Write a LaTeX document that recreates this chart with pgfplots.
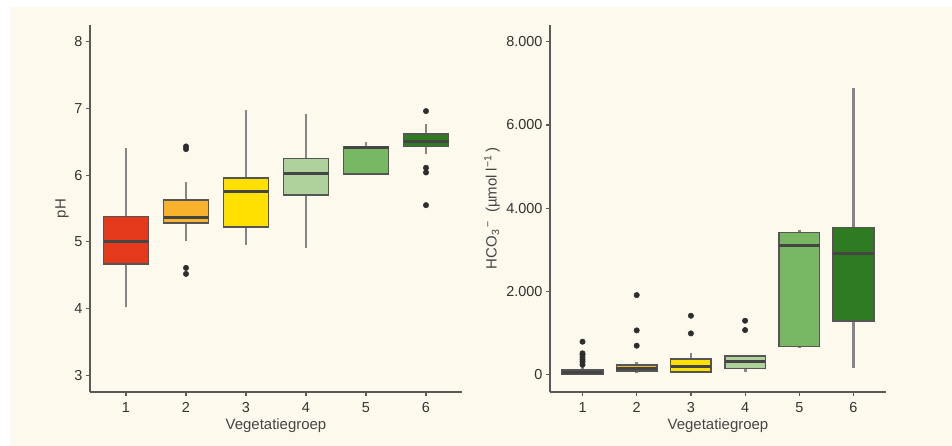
\documentclass[border=0pt]{standalone}
\usepackage{fontspec}
\setmainfont{Liberation Sans}
\usepackage{pgfplots}
\pgfplotsset{compat=1.18}
\usepgfplotslibrary{statistics}
\definecolor{bg}{HTML}{FDF9EC}
\definecolor{axcol}{HTML}{5A5A5A}
\definecolor{tkcol}{HTML}{333333}
\definecolor{lbcol}{HTML}{444444}
\definecolor{outl}{HTML}{555555}
\definecolor{medc}{HTML}{454545}
\definecolor{whc}{HTML}{858585}
\definecolor{dot}{HTML}{2E2E2E}
\definecolor{c1}{HTML}{E4391B}
\definecolor{c2}{HTML}{F8B22B}
\definecolor{c3}{HTML}{FFE000}
\definecolor{c4}{HTML}{AFD29C}
\definecolor{c5}{HTML}{78B862}
\definecolor{c6}{HTML}{2E7B22}
\pgfplotsset{
  vbox/.style={
    scale only axis, height=367bp,
    axis x line=bottom, axis y line=left,
    axis line style={-, draw=axcol, line width=1.8bp},
    tick align=outside, major tick length=4bp,
    tick style={draw=axcol, line width=1.2bp},
    xmin=0.4, xmax=6.6, xtick={1,2,3,4,5,6},
    xticklabels={1,2,3,4,5,6},
    ticklabel style={font=\fontsize{14.5}{16}\selectfont, text=tkcol},
    xticklabel style={yshift=-3bp},
    /pgf/number format/assume math mode=true,
    every axis x label/.style={at={(axis description cs:0.5,0)}, yshift=-34bp, anchor=center, font=\fontsize{15}{17}\selectfont, text=lbcol},
    boxplot/draw direction=y,
    boxplot/whisker extend=0,
    boxplot/box extend=0.75,
    boxplot/every box/.style={draw=outl, line width=1.6bp},
    boxplot/every whisker/.style={draw=whc, line width=2.8bp},
    boxplot/every median/.style={draw=medc, line width=3bp},
    xlabel={Vegetatiegroep},
  },
  bp/.style={mark=*, mark size=2.7bp, mark options={fill=dot, draw=dot, line width=0.5bp}, fill=#1, draw=outl, line width=1.6bp},
}
\begin{document}
\begin{tikzpicture}
\fill[white] (0,0) rectangle (952bp,446bp);
\fill[bg] (10bp,0) rectangle (952bp,439bp);
% ---------------- pH ----------------
\begin{axis}[vbox, at={(90bp,54bp)}, anchor=south west, width=372bp,
  ymin=2.75, ymax=8.25, ytick={3,4,5,6,7,8}, yticklabels={3,4,5,6,7,8},
  every axis y label/.style={at={(axis description cs:0,0.5)}, xshift=-28bp, rotate=90, anchor=center, font=\fontsize{15}{17}\selectfont, text=lbcol},
  ylabel={pH}]
\addplot[bp=c1, boxplot prepared={draw position=1, lower whisker=4.02, lower quartile=4.67, median=5.01, upper quartile=5.38, upper whisker=6.40}] coordinates {};
\addplot[bp=c2, boxplot prepared={draw position=2, lower whisker=5.01, lower quartile=5.28, median=5.37, upper quartile=5.63, upper whisker=5.89}] coordinates {(2,6.43) (2,6.39) (2,4.61) (2,4.52)};
\addplot[bp=c3, boxplot prepared={draw position=3, lower whisker=4.96, lower quartile=5.22, median=5.76, upper quartile=5.96, upper whisker=6.97}] coordinates {};
\addplot[bp=c4, boxplot prepared={draw position=4, lower whisker=4.91, lower quartile=5.70, median=6.02, upper quartile=6.25, upper whisker=6.91}] coordinates {};
\addplot[bp=c5, boxplot prepared={draw position=5, lower whisker=6.02, lower quartile=6.02, median=6.41, upper quartile=6.42, upper whisker=6.50}] coordinates {};
\addplot[bp=c6, boxplot prepared={draw position=6, lower whisker=6.31, lower quartile=6.43, median=6.50, upper quartile=6.62, upper whisker=6.76}] coordinates {(6,6.96) (6,6.11) (6,6.04) (6,5.55)};
\end{axis}
% ---------------- HCO3 (values in thousands of umol/l) ----------------
\begin{axis}[vbox, at={(550bp,54bp)}, anchor=south west, width=336bp,
  ymin=-0.416, ymax=8.4, ytick={0,2,4,6,8}, yticklabels={0,2.000,4.000,6.000,8.000},
  every axis y label/.style={at={(axis description cs:0,0.5)}, xshift=-58bp, rotate=90, anchor=center, font=\fontsize{15}{17}\selectfont, text=lbcol},
  ylabel={HCO\textsubscript{3}\textsuperscript{\,−}\ \ (µmol l\textsuperscript{−1}\,)}]
\addplot[bp=c1, boxplot prepared={draw position=1, lower whisker=0, lower quartile=0.016, median=0.050, upper quartile=0.110, upper whisker=0.200}] coordinates {(1,0.240) (1,0.312) (1,0.360) (1,0.416) (1,0.480) (1,0.512) (1,0.792)};
\addplot[bp=c2, boxplot prepared={draw position=2, lower whisker=0.040, lower quartile=0.090, median=0.160, upper quartile=0.230, upper whisker=0.300}] coordinates {(2,0.696) (2,1.064) (2,1.912)};
\addplot[bp=c3, boxplot prepared={draw position=3, lower whisker=0.030, lower quartile=0.070, median=0.190, upper quartile=0.370, upper whisker=0.510}] coordinates {(3,0.992) (3,1.416)};
\addplot[bp=c4, boxplot prepared={draw position=4, lower whisker=0.056, lower quartile=0.150, median=0.310, upper quartile=0.450, upper whisker=0.480}] coordinates {(4,1.072) (4,1.296)};
\addplot[bp=c5, boxplot prepared={draw position=5, lower whisker=0.640, lower quartile=0.680, median=3.096, upper quartile=3.416, upper whisker=3.464}] coordinates {};
\addplot[bp=c6, boxplot prepared={draw position=6, lower whisker=0.160, lower quartile=1.296, median=2.904, upper quartile=3.536, upper whisker=6.880}] coordinates {};
\end{axis}
\pgfresetboundingbox
\useasboundingbox (0,0) rectangle (952bp,446bp);
\end{tikzpicture}
\end{document}
